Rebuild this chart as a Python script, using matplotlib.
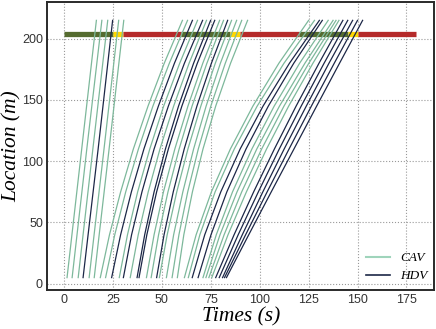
import numpy as np
import matplotlib.pyplot as plt

# platoon 1 (passes in the first green), nearly constant speed
p1_y = [5, 110, 215]
p1_times = [
    [1.5, 9.0, 16.5],
    [4.1, 11.6, 19.3],
    [7.2, 14.7, 22.3],
    [9.7, 17.4, 24.8],
    [12.8, 20.4, 27.9],
    [15.4, 23.0, 30.5],
]
p1_types = ['CAV', 'CAV', 'CAV', 'HDV', 'CAV', 'CAV']

# platoons 2 and 3 slow down on approach, read at these locations (m)
p_y = [5, 40, 75, 110, 145, 180, 215]

p2_times = [
    [18.5, 23.2, 28.9, 35.4, 42.9, 51.2, 60.5],
    [21.2, 25.9, 31.5, 38.0, 45.4, 53.8, 63.1],
    [24.3, 28.9, 34.4, 40.8, 48.2, 56.4, 65.6],
    [28.2, 32.4, 37.6, 43.8, 50.9, 59.1, 68.2],
    [30.3, 34.5, 39.8, 46.0, 53.3, 61.5, 70.8],
    [33.8, 37.9, 43.0, 49.0, 56.0, 63.9, 72.8],
    [37.3, 41.2, 46.0, 51.8, 58.5, 66.2, 74.9],
    [38.3, 42.3, 47.3, 53.3, 60.2, 68.1, 77.0],
    [42.1, 46.0, 50.8, 56.6, 63.3, 70.9, 79.5],
    [44.5, 48.3, 53.1, 58.8, 65.4, 73.0, 81.5],
    [47.3, 51.1, 55.8, 61.4, 67.9, 75.3, 83.6],
    [48.7, 52.7, 57.6, 63.3, 69.9, 77.3, 85.6],
    [52.3, 56.0, 60.7, 66.2, 72.6, 79.9, 88.2],
    [55.2, 58.7, 63.2, 68.6, 75.0, 82.4, 90.8],
    [57.9, 61.2, 65.6, 71.0, 77.5, 85.1, 93.8],
]
p2_types = ['CAV', 'CAV', 'HDV', 'CAV', 'HDV', 'CAV', 'HDV', 'HDV',
            'CAV', 'CAV', 'HDV', 'CAV', 'CAV', 'CAV', 'CAV']

p3_times = [
    [61.5, 67.5, 75.3, 85.0, 96.5, 109.8, 125.0],
    [63.5, 69.4, 77.2, 87.0, 98.7, 112.4, 128.0],
    [65.5, 71.9, 80.1, 90.0, 101.7, 115.2, 130.5],
    [68.5, 75.1, 83.2, 93.0, 104.4, 117.4, 132.0],
    [71.0, 77.8, 86.1, 96.0, 107.4, 120.4, 135.0],
    [72.5, 79.7, 88.4, 98.5, 110.1, 123.1, 137.5],
    [74.0, 81.8, 90.8, 101.0, 112.4, 125.1, 139.0],
    [75.5, 83.8, 93.2, 103.5, 114.8, 127.2, 140.5],
    [77.5, 86.9, 96.9, 107.5, 118.6, 130.3, 142.5],
    [79.3, 89.0, 99.3, 110.0, 121.2, 132.9, 145.0],
    [81.0, 91.1, 101.6, 112.5, 123.8, 135.4, 147.5],
    [82.0, 92.8, 103.8, 115.0, 126.4, 138.1, 150.0],
    [83.0, 94.4, 105.9, 117.5, 129.1, 140.8, 152.6],
]
p3_types = ['CAV', 'CAV', 'HDV', 'HDV', 'CAV', 'CAV', 'CAV', 'CAV',
            'HDV', 'HDV', 'HDV', 'HDV', 'HDV']

# signal timing at the stop line
stop_line = 204
phase_start = [0, 25, 30, 60, 85, 90, 120, 145, 150]
phase_end = [25, 30, 60, 85, 90, 120, 145, 150, 180]
phase_color = ['g', 'y', 'r', 'g', 'y', 'r', 'g', 'y', 'r']

colors = {'CAV': '#7db89b', 'HDV': '#1c2747'}
sig_colors = {'g': '#556b2f', 'y': '#ffd700', 'r': '#b52a2a'}

fig = plt.figure(figsize=(4.36, 3.29), dpi=100)
ax = fig.add_axes([0.108, 0.119, 0.887, 0.875])

for s, e, c in zip(phase_start, phase_end, phase_color):
    ax.plot([s, e], [stop_line, stop_line], color=sig_colors[c], lw=3.8,
            solid_capstyle='butt', zorder=2)

for ys, times, types in [(p1_y, p1_times, p1_types),
                         (p_y, p2_times, p2_types),
                         (p_y, p3_times, p3_types)]:
    for t, k in zip(times, types):
        ax.plot(t, ys, color=colors[k], lw=0.9, zorder=3)

ax.plot([], [], color='#9fd4bb', lw=1.5, label='CAV')
ax.plot([], [], color=colors['HDV'], lw=1.2, label='HDV')

ax.set_xlim(-8.7, 189)
ax.set_ylim(-5, 230)
ax.set_xticks([0, 25, 50, 75, 100, 125, 150, 175])
ax.set_yticks([0, 50, 100, 150, 200])
ax.grid(True, linestyle=':', color='#999999', lw=0.8)
ax.set_axisbelow(True)
ax.tick_params(length=0, labelsize=9, labelcolor='#333333', pad=3)
for lab in ax.get_xticklabels() + ax.get_yticklabels():
    lab.set_family('Liberation Sans')
for sp in ax.spines.values():
    sp.set_linewidth(1.4)
    sp.set_color('#2a2a2a')

lab_font = {'family': 'Liberation Serif', 'style': 'italic', 'size': 15.5}
fig.text(0.552, 0.036, 'Times (s)', ha='center', va='center', **lab_font)
fig.text(0.028, 0.556, 'Location (m)', ha='center', va='center',
         rotation=90, **lab_font)

ax.legend(loc='lower right', frameon=False, handlelength=1.8,
          prop={'family': 'Liberation Serif', 'style': 'italic', 'size': 9.5},
          bbox_to_anchor=(1.015, -0.015), labelspacing=0.45)

fig.savefig('out.png', dpi=100)
